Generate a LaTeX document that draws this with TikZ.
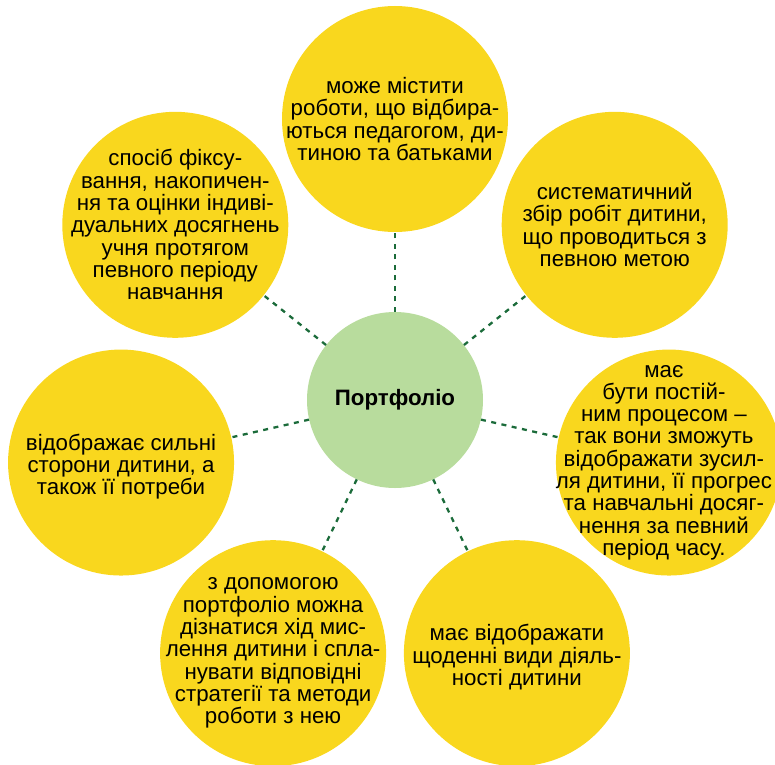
\documentclass[tikz,border=0pt]{standalone}
\usepackage{fontspec}
\setmainfont{Liberation Sans}
\definecolor{bubyellow}{HTML}{F9D71E}
\definecolor{bubgreen}{HTML}{B8DC9D}
\definecolor{dashgreen}{HTML}{1B6B3A}
\tikzset{
  bubble/.style={circle, fill=bubyellow, minimum size=226pt, inner sep=0pt},
  hub/.style={circle, fill=bubgreen, minimum size=176pt, inner sep=0pt},
  txt/.style={align=center, inner sep=0pt, font=\fontsize{22.3}{22.3}\selectfont},
  conn/.style={draw=dashgreen, line width=2.3pt, dash pattern=on 5pt off 5.5pt}
}
\begin{document}
\begin{tikzpicture}
\useasboundingbox (-395pt,-364pt) rectangle (380pt,400pt);
\node[hub] (c) at (0,0) {};
\node[bubble] (o1) at (90:281pt) {};
\node[bubble] (o2) at (38.57:281pt) {};
\node[bubble] (o3) at (-12.86:281pt) {};
\node[bubble] (o4) at (-64.29:281pt) {};
\node[bubble] (o5) at (-115.71:281pt) {};
\node[bubble] (o6) at (-167.14:281pt) {};
\node[bubble] (o7) at (-218.57:281pt) {};
\foreach \i in {1,...,7} {\draw[conn] (c) -- (o\i);}
\node[txt, font=\fontsize{22.3}{22.3}\selectfont\bfseries] (tc) at (c) {Портфоліо};
\node[txt] (t1) at (o1) {може містити\\роботи, що відбира-\\ються педагогом, ди-\\тиною та батьками};
\node[txt] (t2) at (o2) {систематичний\\збір робіт дитини,\\що проводиться з\\певною метою};
\node[txt] (t3) at ([xshift=-5pt]o3) {має\\бути постій-\\ним процесом –\\так вони зможуть\\відображати зусил-\\ля дитини, її прогрес\\та навчальні досяг-\\нення за певний\\період часу.};
\node[txt] (t4) at ([yshift=-4pt]o4) {має відображати\\щоденні види діяль-\\ності дитини};
\node[txt] (t5) at (o5) {з допомогою\\портфоліо можна\\дізнатися хід мис-\\лення дитини і спла-\\нувати відповідні\\стратегії та методи\\роботи з нею};
\node[txt] (t6) at ([yshift=-4pt]o6) {відображає сильні\\сторони дитини, а\\також її потреби};
\node[txt] (t7) at (o7) {спосіб фіксу-\\вання, накопичен-\\ня та оцінки індиві-\\дуальних досягнень\\учня протягом\\певного періоду\\навчання};
\end{tikzpicture}
\end{document}
